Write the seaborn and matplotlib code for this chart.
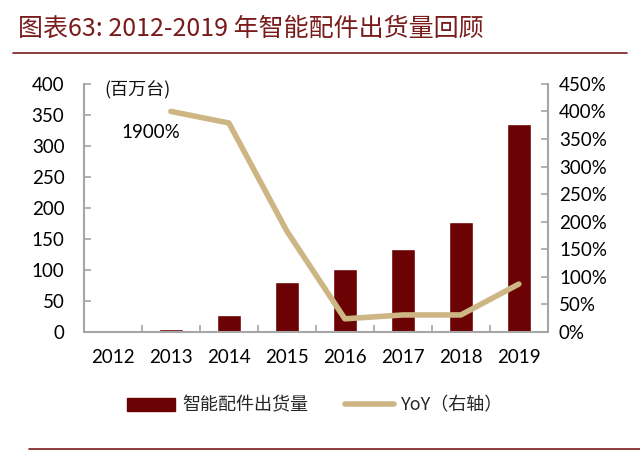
import matplotlib
matplotlib.use("Agg")
import matplotlib.pyplot as plt
import seaborn as sns
import pandas as pd
import numpy as np
from matplotlib.lines import Line2D
from matplotlib.patches import Patch
from matplotlib.ticker import FuncFormatter, MultipleLocator, FixedLocator

years = ["2012", "2013", "2014", "2015", "2016", "2017", "2018", "2019"]
shipments = [0, 5, 27, 81, 101, 134, 177, 336]
yoy = [np.nan, 400, 379, 183, 24, 31, 31, 87]
yoy_note = "1900%"
title = "图表63: 2012-2019 年智能配件出货量回顾"
unit = "(百万台)"
bar_label = "智能配件出货量"
line_label = "YoY（右轴）"

sns.set_theme(style="white")
plt.rcParams['font.family'] = ['Noto Sans CJK SC', 'DejaVu Sans']

BAR = "#6B0203"
LINE = "#CDB683"
GRAY = "#A6A6A6"
TITLE_C = "#7A1C1C"

df = pd.DataFrame({"year": years, "ship": shipments, "yoy": yoy})

fig = plt.figure(figsize=(6.4, 4.53), dpi=100)
ax = fig.add_axes([0.131, 0.267, 0.725, 0.548])
sns.barplot(data=df, x="year", y="ship", color=BAR, width=0.41, ax=ax, saturation=1)
ax.set_xlim(-0.5, 7.5)
ax.set_ylim(0, 400)
ax.yaxis.set_major_locator(MultipleLocator(50))
ax.set_xlabel("")
ax.set_ylabel("")

ax2 = ax.twinx()
sns.lineplot(x=np.arange(len(years)), y=df["yoy"], color=LINE, linewidth=4, ax=ax2)
ax2.set_ylim(0, 450)
ax2.yaxis.set_major_locator(MultipleLocator(50))
ax2.yaxis.set_major_formatter(FuncFormatter(lambda v, p: f"{int(v)}%"))
ax2.set_ylabel("")
ax.set_xlim(-0.5, 7.5)

for a in (ax, ax2):
    for s in a.spines.values():
        s.set_visible(False)
ax.spines['left'].set_visible(True)
ax.spines['left'].set_color(GRAY)
ax.spines['left'].set_linewidth(1.5)
ax.spines['bottom'].set_visible(True)
ax.spines['bottom'].set_color(GRAY)
ax.spines['bottom'].set_linewidth(1.5)
ax2.spines['right'].set_visible(True)
ax2.spines['right'].set_color(GRAY)
ax2.spines['right'].set_linewidth(1.5)

ax.tick_params(axis='y', direction='in', length=5, width=1.2, color=GRAY, pad=14, left=True)
ax2.tick_params(axis='y', direction='in', length=5, width=1.2, color=GRAY, pad=8, right=True)
ax.tick_params(axis='x', which='major', length=0, pad=12)
ax.xaxis.set_minor_locator(FixedLocator(np.arange(0.5, 7.5, 1)))
ax.tick_params(axis='x', which='minor', direction='in', length=5, width=1.2, color=GRAY, bottom=True)
ax.set_xticks(range(len(years)))
ax.set_xticklabels(years)
for lbl in ax.get_xticklabels() + ax.get_yticklabels() + ax2.get_yticklabels():
    lbl.set_fontfamily(['Lato', 'DejaVu Sans'])
    lbl.set_fontsize(13.5)
    lbl.set_color("#000000")

ax.text(0.045, 0.975, unit, transform=ax.transAxes, fontsize=13, color="#111111",
        ha='left', va='center')
ax.text(0.08, 0.805, yoy_note, transform=ax.transAxes, fontsize=13.5, color="#000000",
        ha='left', va='center', family=['Lato', 'DejaVu Sans'])

fig.text(0.028, 0.937, title, fontsize=18, color=TITLE_C, style='italic', ha='left', va='center')
fig.add_artist(Line2D([0.02, 0.98], [0.883, 0.883], color=TITLE_C, linewidth=1.2))
fig.add_artist(Line2D([0.045, 1.0], [0.008, 0.008], color=TITLE_C, linewidth=1.2))

handles = [Patch(facecolor=BAR, edgecolor=BAR), Line2D([0], [0], color=LINE, linewidth=4)]
fig.legend(handles, [bar_label, line_label], loc='center', bbox_to_anchor=(0.492, 0.105),
           ncol=2, frameon=False, fontsize=13, handlelength=2.7, handleheight=0.75,
           columnspacing=2.0, handletextpad=0.4)

fig.savefig("out.png", dpi=100)
